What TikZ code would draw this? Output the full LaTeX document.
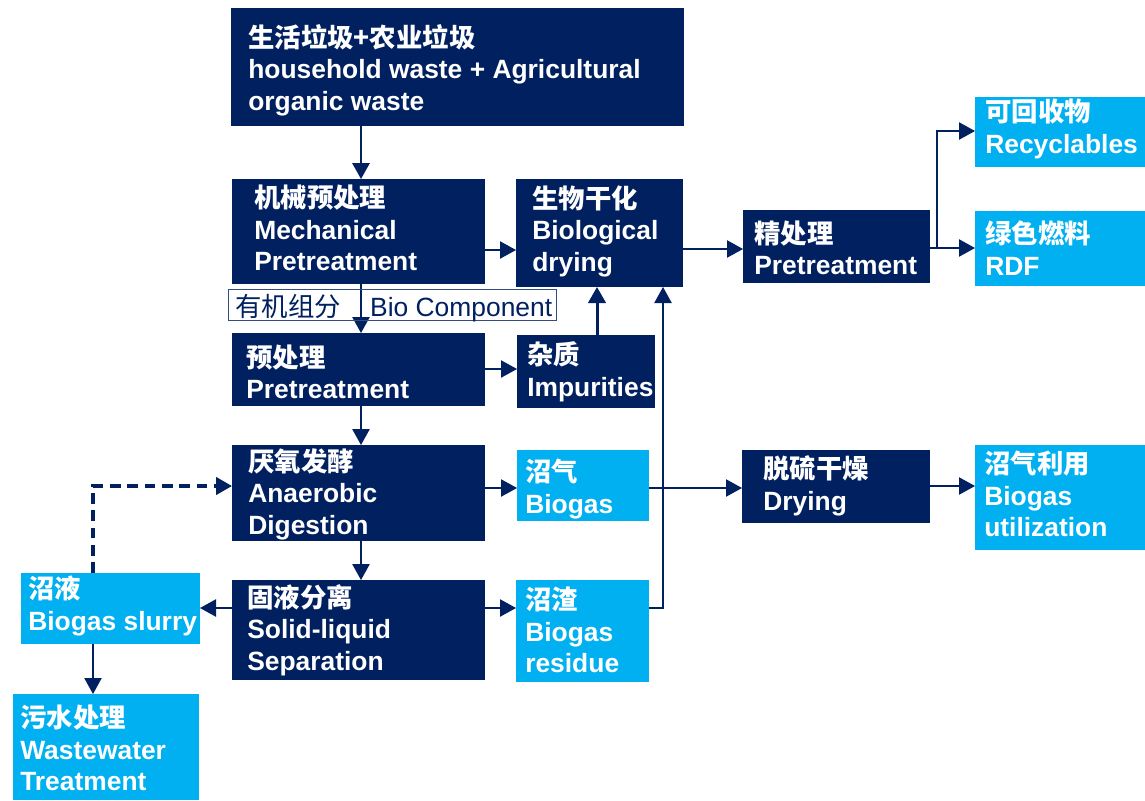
\documentclass[tikz,border=0pt]{standalone}
\usepackage{fontspec}
\setmainfont{Liberation Sans}
\newfontfamily\cjk{Noto Sans CJK SC}
\usetikzlibrary{arrows.meta,fit}
\definecolor{navy}{HTML}{002060}
\definecolor{sky}{HTML}{00B0F0}
\tikzset{
  dkbox/.style={fill=navy, inner sep=0pt, outer sep=0pt},
  ltbox/.style={fill=sky, inner sep=0pt, outer sep=0pt},
  txt/.style={anchor=west, align=left, inner sep=0pt, text=white,
    font=\fontsize{19.8pt}{23.6pt}\selectfont\bfseries},
  flow/.style={draw=navy, line width=0.8pt,
    -{Triangle[length=12pt 0 0,width=13pt 0 0]}},
}

\begin{document}
\begin{tikzpicture}[x=0.75pt, y=-0.75pt]
\useasboundingbox (0,0) rectangle (1145,800);

% boxes
\node[dkbox, fit={(231,8) (684,126)}] (top) {};
\node[dkbox, fit={(232,179) (485,284)}] (mech) {};
\node[dkbox, fit={(516,179) (683,287)}] (biodry) {};
\node[dkbox, fit={(743,210) (930,283)}] (fine) {};
\node[ltbox, fit={(975,97) (1145,167)}] (recyc) {};
\node[ltbox, fit={(975,211) (1145,286)}] (rdf) {};
\node[dkbox, fit={(232,333) (485,406)}] (pre) {};
\node[dkbox, fit={(517,335) (655,408)}] (imp) {};
\node[dkbox, fit={(232,445) (485,541)}] (ad) {};
\node[ltbox, fit={(517,450) (649,521)}] (gas) {};
\node[dkbox, fit={(742,450) (930,523)}] (desulf) {};
\node[ltbox, fit={(975,445) (1145,550)}] (use) {};
\node[ltbox, fit={(21,573) (200,644)}] (slurry) {};
\node[dkbox, fit={(232,580) (485,680)}] (sep) {};
\node[ltbox, fit={(516,580) (649,682)}] (res) {};
\node[ltbox, fit={(13,694) (199,800)}] (ww) {};

% texts
\node[txt] at (248,70) {{\cjk 生活垃圾+农业垃圾}\\household waste + Agricultural\\organic waste};
\node[txt] at (254,228) {{\cjk 机械预处理}\\Mechanical\\Pretreatment};
\node[txt] at (532,231) {{\cjk 生物干化}\\Biological\\drying};
\node[txt] at (754,248) {{\cjk 精处理}\\Pretreatment};
\node[txt] at (985,129) {{\cjk 可回收物}\\Recyclables};
\node[txt] at (985,248) {{\cjk 绿色燃料}\\RDF};
\node[txt] at (246,372) {{\cjk 预处理}\\Pretreatment};
\node[txt] at (527,372) {{\cjk 杂质}\\Impurities};
\node[txt] at (248,494) {{\cjk 厌氧发酵}\\Anaerobic\\Digestion};
\node[txt] at (525,489) {{\cjk 沼气}\\Biogas};
\node[txt] at (763,486) {{\cjk 脱硫干燥}\\Drying};
\node[txt] at (984,494) {{\cjk 沼气利用}\\Biogas\\utilization};
\node[txt] at (28,606) {{\cjk 沼液}\\Biogas slurry};
\node[txt] at (247,630) {{\cjk 固液分离}\\Solid-liquid\\Separation};
\node[txt] at (525,630) {{\cjk 沼渣}\\Biogas\\residue};
\node[txt] at (20,748) {{\cjk 污水处理}\\Wastewater\\Treatment};

% connectors
\draw[flow, line width=1.5pt] (top.south -| 361,0) -- (mech.north -| 361,0);
\draw[flow] (mech.east |- 0,250) -- (biodry.west |- 0,250);
\draw[flow, line width=1.2pt] (mech.south -| 361,0) -- (pre.north -| 361,0);
\draw[flow] (pre.east |- 0,369) -- (imp.west |- 0,369);
\draw[flow, line width=2.25pt] (imp.north -| 597,0) -- (biodry.south -| 597,0);
\draw[flow, line width=1.2pt] (pre.south -| 361,0) -- (ad.north -| 361,0);
\draw[flow] (ad.east |- 0,488) -- (gas.west |- 0,488);
\draw[flow] (gas.east |- 0,488) -- (desulf.west |- 0,488);
\draw[flow] (res.east |- 0,608) -| (biodry.south -| 663,0);
\draw[flow, line width=1.2pt] (ad.south -| 361,0) -- (sep.north -| 361,0);
\draw[flow] (sep.west |- 0,608) -- (slurry.east |- 0,608);
\draw[flow] (sep.east |- 0,608) -- (res.west |- 0,608);
\draw[flow] (slurry.south -| 93,0) -- (ww.north -| 93,0);
\draw[flow, line width=2.4pt, dash pattern=on 8pt off 5pt]
  (slurry.north -| 93,0) |- (ad.west |- 0,486);
\draw[flow] (biodry.east |- 0,249) -- (fine.west |- 0,249);
\coordinate (split) at (937,248);
\draw[flow] (fine.east |- split) -- (split) |- (recyc.west |- 0,131);
\draw[flow] (split) -- (rdf.west |- split);
\draw[flow] (desulf.east |- 0,486) -- (use.west |- 0,486);

% label on the bio component line
\node[draw=navy!80, line width=0.75pt, inner sep=0pt, fit={(228,289) (556,320)}] (biolbl) {};
\node[anchor=west, inner sep=0pt, text=navy, font=\fontsize{19.8pt}{23pt}\selectfont]
  (biotxt) at (235,308) {{\cjk 有机组分}\hspace{22pt}Bio Component};
\end{tikzpicture}
\end{document}
